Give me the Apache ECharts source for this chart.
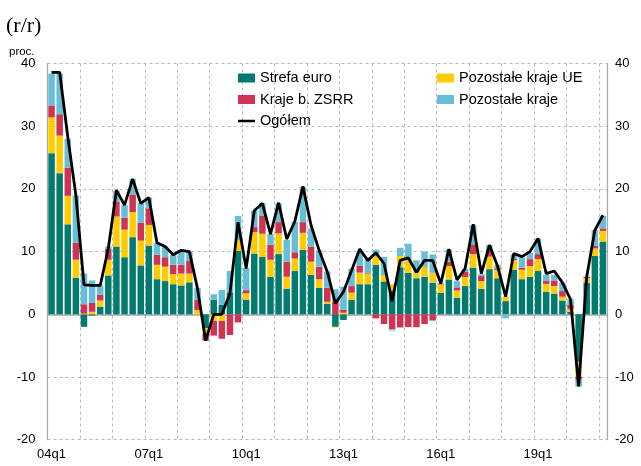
<!DOCTYPE html>
<html>
<head>
<meta charset="utf-8">
<script src="https://cdn.jsdelivr.net/npm/echarts@6/dist/echarts.min.js"></script>
<style>
  html, body { margin: 0; padding: 0; background: #ffffff; }
  #chart { width: 641px; height: 466px; }
</style>
</head>
<body>
<div id="chart"></div>
<script>
// Quarterly export growth by destination group, y/y, percent
const quarters = [
  '04q1','04q2','04q3','04q4','05q1','05q2','05q3','05q4',
  '06q1','06q2','06q3','06q4','07q1','07q2','07q3','07q4',
  '08q1','08q2','08q3','08q4','09q1','09q2','09q3','09q4',
  '10q1','10q2','10q3','10q4','11q1','11q2','11q3','11q4',
  '12q1','12q2','12q3','12q4','13q1','13q2','13q3','13q4',
  '14q1','14q2','14q3','14q4','15q1','15q2','15q3','15q4',
  '16q1','16q2','16q3','16q4','17q1','17q2','17q3','17q4',
  '18q1','18q2','18q3','18q4','19q1','19q2','19q3','19q4',
  '20q1','20q2','20q3','20q4','21q1'
];

// contributions, percentage points
const strefaEuro = [
  25.7, 22.5, 14.35, 5.85, -2.0, -0.2, 1.2, 6.2,
  10.8, 9.1, 12.3, 7.8, 10.95, 5.6, 5.3, 4.8,
  4.6, 5.1, 0, -2.2, 2.3, 1.5, 3.5, 10.1,
  2.35, 9.7, 9.15, 6.0, 9.6, 4.1, 6.9, 10.3,
  6.3, 4.25, 1.65, -2.0, -0.9, 2.3, 4.8, 4.8,
  7.9, 5.25, 3.8, 7.5, 6.6, 5.75, 6.0, 5.05,
  3.45, 5.55, 2.65, 4.5, 7.45, 4.05, 7.2, 5.75,
  2.1, 7.1, 5.6, 6.0, 6.9, 3.6, 3.3, 2.2,
  0.4, -7.55, 5.05, 9.3, 11.6
];
const pozostaleUE = [
  5.7, 6.0, 4.55, 2.85, 0.1, 0.4, 1.0, 2.5,
  4.8, 4.4, 4.0, 3.95, 3.3, 2.3, 2.3, 1.6,
  1.9, 1.4, 0.7, -1.0, -1.05, -1.05, 0, 1.75,
  1.0, 3.4, 3.7, 2.7, 3.3, 1.9, 2.0, 2.7,
  2.1, 1.35, 0.35, -0.1, 0.25, 1.15, 1.85, 1.7,
  1.5, 1.0, 1.0, 1.8, 2.0, 0.9, 1.55, 1.55,
  1.3, 2.15, 1.15, 1.45, 2.15, 1.25, 2.0, 1.35,
  0.7, 1.55, 1.5, 1.7, 1.9, 1.25, 1.2, 0.6,
  0.4, -2.4, 0.7, 1.2, 1.7
];
const krajeZSRR = [
  1.9, 3.4, 4.5, 2.75, 1.5, 1.4, 0.9, 1.7,
  2.4, 1.9, 2.8, 2.85, 2.65, 1.6, 1.5, 1.5,
  1.4, 2.0, 1.6, -1.0, -2.35, -2.85, -3.3, -1.3,
  0.5, 0.8, 2.9, 2.4, 1.8, 2.4, 1.0, 1.7,
  2.4, 2.0, 2.25, 2.0, 0.45, 1.05, 1.05, 0.1,
  -0.65, -1.55, -2.4, -2.1, -2.05, -2.05, -1.55, -1.0,
  0.1, 0.7, 0.5, 0.8, 1.45, 0.8, 1.05, 0.25,
  0, 0.25, 0.35, 1.1, 0.8, 0.55, 0.9, 0.9,
  0.7, -0.5, 0.25, 0.4, 0.4
];
const pozostaleKraje = [
  5.1, 6.5, 4.6, 7.5, 4.9, 3.6, 1.5, 0.4,
  1.7, 2.0, 2.5, 3.1, 1.7, 1.9, 1.7, 1.6,
  2.1, 1.5, 1.9, 0, 0.9, 2.4, 3.4, 3.85,
  3.5, 2.6, 2.0, 1.7, 3.0, 3.45, 4.85, 5.6,
  2.9, 2.6, 2.55, 2.0, 3.7, 2.8, 2.2, 2.4,
  0.9, 2.9, -0.2, 1.3, 2.65, 1.95, 2.45, 2.95,
  0.1, 1.95, 1.0, 0.5, 3.2, 0.3, 0.8, 0.55,
  -0.65, 0.65, 1.65, 1.0, 2.4, 0.9, 0.9, 1.35,
  0.9, -1.1, 0, 2.55, 2.0
];
// total export growth, percent
const ogolem = [
  38.6, 38.6, 28.3, 19.0, 4.7, 4.6, 4.6, 10.5,
  19.8, 17.4, 21.6, 17.7, 18.6, 11.4, 10.8, 9.5,
  10.2, 10.0, 4.1, -4.2, 0, 0, 3.3, 14.7,
  7.3, 16.5, 17.7, 12.8, 17.8, 12.0, 14.8, 20.4,
  14.2, 10.2, 6.8, 1.75, 3.6, 7.0, 10.4, 8.6,
  9.8, 8.1, 2.1, 8.6, 9.0, 6.7, 8.6, 8.6,
  4.9, 10.4, 5.5, 7.3, 14.35, 6.5, 11.05, 7.7,
  2.8, 9.7, 9.2, 10.0, 12.1, 6.5, 6.9, 5.05,
  2.4, -11.5, 6.0, 13.4, 15.8
];

const FONT = '"Liberation Sans", Arial, sans-serif';
const GRID_DASH = { color: '#b8b8b8', width: 1, type: [3, 3] };
const AXIS_GREY = '#a8a8a8';
// thin horizontal stroke used as the legend key of the total line
const LINE_KEY = 'path://M0,0L0.01,0L0.01,0.01L0,0.01Z M0,3.2L17,3.2L17,5.8L0,5.8Z M16.99,8.99L17,8.99L17,9L16.99,9Z';

const chart = echarts.init(document.getElementById('chart'), null, { renderer: 'canvas' });

function barSeries(name, data, color) {
  return {
    name: name,
    type: 'bar',
    stack: 'eksport',
    data: data,
    barCategoryGap: '20%',
    itemStyle: { color: color },
    emphasis: { disabled: true },
    xAxisIndex: 0,
    yAxisIndex: 0
  };
}

const legendText = { fontFamily: FONT, fontSize: 14.5, color: '#000', lineHeight: 16 };

chart.setOption({
  animation: false,
  backgroundColor: '#ffffff',
  textStyle: { fontFamily: FONT },
  grid: {
    left: 47.5, right: 34, top: 63.5, bottom: 26.3,
    containLabel: false,
    outerBoundsMode: 'none'
  },
  graphic: [
    {
      type: 'text', left: 6, top: 15,
      style: { text: '(r/r)', font: '22px "Liberation Serif", "Times New Roman", serif', fill: '#000' }
    },
    {
      type: 'text', left: 9, top: 46,
      style: { text: 'proc.', font: '11.5px ' + FONT, fill: '#000' }
    }
  ],
  legend: [
    {
      orient: 'vertical', left: 238, top: 70, padding: 0,
      itemWidth: 17, itemHeight: 9, itemGap: 5.5,
      data: [
        { name: 'Strefa euro', icon: 'rect' },
        { name: 'Kraje b. ZSRR', icon: 'rect' },
        { name: 'Ogółem', icon: LINE_KEY, itemStyle: { color: '#000' } }
      ],
      textStyle: legendText,
      selectedMode: false
    },
    {
      orient: 'vertical', left: 437, top: 70, padding: 0,
      itemWidth: 17, itemHeight: 9, itemGap: 5.5,
      data: [
        { name: 'Pozostałe kraje UE', icon: 'rect' },
        { name: 'Pozostałe kraje', icon: 'rect' }
      ],
      textStyle: legendText,
      selectedMode: false
    }
  ],
  xAxis: [
    {
      type: 'category',
      data: quarters,
      position: 'bottom',
      boundaryGap: true,
      axisLine: { show: false, onZero: false },
      axisTick: { show: false },
      axisLabel: { interval: 11, fontFamily: FONT, fontSize: 13, color: '#000', margin: 8 },
      splitLine: { show: true, interval: 3, lineStyle: GRID_DASH }
    },
    {
      // zero line
      type: 'category',
      data: quarters,
      position: 'bottom',
      axisLine: { show: true, onZero: true, lineStyle: { color: AXIS_GREY, width: 1.5 } },
      axisTick: { show: false },
      axisLabel: { show: false },
      splitLine: { show: false }
    }
  ],
  yAxis: [
    {
      type: 'value', position: 'left',
      min: -20, max: 40, interval: 10,
      axisLine: { show: true, lineStyle: { color: AXIS_GREY, width: 1.2 } },
      axisTick: { show: false },
      axisLabel: { fontFamily: FONT, fontSize: 13, color: '#000', margin: 12 },
      splitLine: { show: true, lineStyle: GRID_DASH }
    },
    {
      type: 'value', position: 'right',
      min: -20, max: 40, interval: 10,
      axisLine: { show: true, lineStyle: { color: AXIS_GREY, width: 1.2 } },
      axisTick: { show: false },
      axisLabel: { fontFamily: FONT, fontSize: 13, color: '#000', margin: 8 },
      splitLine: { show: false }
    }
  ],
  series: [
    barSeries('Strefa euro', strefaEuro, '#007B6E'),
    barSeries('Pozostałe kraje UE', pozostaleUE, '#FFCC00'),
    barSeries('Kraje b. ZSRR', krajeZSRR, '#CF3452'),
    barSeries('Pozostałe kraje', pozostaleKraje, '#66BFD6'),
    {
      name: 'Ogółem',
      type: 'line',
      data: ogolem,
      xAxisIndex: 0,
      yAxisIndex: 0,
      symbol: 'none',
      showSymbol: false,
      z: 5,
      lineStyle: { color: '#000', width: 2.8 },
      itemStyle: { color: '#000' },
      emphasis: { disabled: true }
    }
  ]
});
</script>
</body>
</html>
